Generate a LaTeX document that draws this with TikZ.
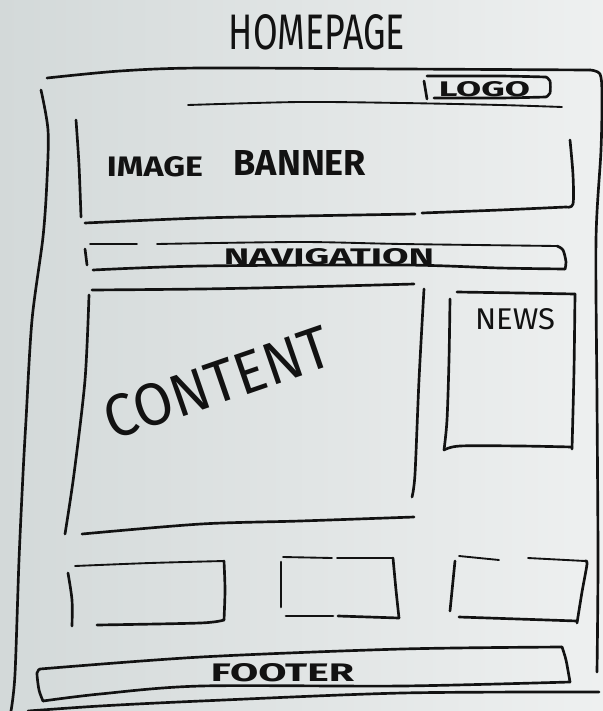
\documentclass[tikz,border=0pt]{standalone}
\usepackage{fontspec}
\setmainfont{Fira Sans}
\usepackage{graphicx}
\definecolor{bgL}{RGB}{211,217,217}
\definecolor{bgR}{RGB}{238,240,240}
\definecolor{ink}{RGB}{18,18,18}
\tikzset{
  pen/.style={draw=ink, line width=2pt, line cap=round, line join=round},
  finepen/.style={pen, line width=1.4pt},
  sketchtext/.style={inner sep=0pt, outer sep=0pt, text=ink},
}
\begin{document}
\begin{tikzpicture}[x=0.75pt,y=-0.75pt]
  \useasboundingbox (0,0) rectangle (603,711);
  \fill[left color=bgL, right color=bgR] (0,0) rectangle (603,711);

  % title
  \node[sketchtext] (home) at (317,32.5) {\resizebox{132pt}{26.25pt}{HOMEPAGE}};

  % outer frame
  \draw[pen] plot[smooth, tension=0.5] coordinates {(47,78) (120,71) (201,68) (402,69) (590,70)};
  \draw[pen] plot[smooth, tension=0.5] coordinates {(590,70) (600,74) (602,95) (601,150) (596,240) (597,400) (598,560) (597,672)};
  \draw[pen] plot[smooth, tension=0.5] coordinates {(41,90) (48,130) (47,180) (43,237) (32,320) (26,420) (23,474) (19,560) (15,674) (11,711)};
  \draw[pen] plot[smooth, tension=0.5] coordinates {(28,711) (100,706) (201,701) (402,693) (599,692)};

  % logo
  \draw[finepen] plot[smooth, tension=0.5] coordinates {(188,105) (300,102) (402,103) (500,105) (562,107)};
  \draw[pen] (424,81) -- (427,99);
  \draw[pen] plot[smooth, tension=0.4] coordinates {(427,76) (500,76) (546,77)};
  \draw[pen] plot[smooth, tension=0.5] coordinates {(546,77) (550,81) (550,93) (546,97)};
  \draw[pen] plot[smooth, tension=0.4] coordinates {(546,97) (500,98) (434,98)};
  \node[sketchtext] (logo) at (484.5,89.5) {\resizebox{68.25pt}{11.25pt}{\bfseries LOGO}};

  % image banner
  \draw[pen] plot[smooth, tension=0.5] coordinates {(76,120) (79,165) (81,217)};
  \draw[pen] plot[smooth, tension=0.5] coordinates {(85,223) (201,218) (300,216) (415,214)};
  \draw[pen] plot[smooth, tension=0.5] coordinates {(422,213) (500,210) (566,207)};
  \draw[pen] plot[smooth, tension=0.5] coordinates {(566,207) (573,204) (573,175) (570,140)};
  \node[sketchtext] (image) at (155,167) {\resizebox{72pt}{15pt}{\bfseries IMAGE}};
  \node[sketchtext] (banner) at (300,162.5) {\resizebox{99pt}{18.75pt}{\bfseries BANNER}};

  % navigation
  \draw[pen] (85,249) -- (87,265);
  \draw[finepen] (90,244) -- (137,244);
  \draw[finepen] plot[smooth, tension=0.5] coordinates {(157,244) (300,242) (402,244) (557,246)};
  \draw[pen] plot[smooth, tension=0.5] coordinates {(557,246) (563,250) (566,262) (565,269)};
  \draw[pen] plot[smooth, tension=0.5] coordinates {(565,269) (500,268) (402,265) (201,266) (93,270)};
  \node[sketchtext] (nav) at (329,257) {\resizebox{157.5pt}{12pt}{\bfseries NAVIGATION}};

  % content
  \draw[pen] plot[smooth, tension=0.5] coordinates {(92,290) (201,289) (300,287) (414,284)};
  \draw[pen] plot[smooth, tension=0.5] coordinates {(89,295) (85,380) (74,474) (65,534)};
  \draw[pen] plot[smooth, tension=0.5] coordinates {(424,289) (419,380) (415,474) (412,497)};
  \draw[pen] plot[smooth, tension=0.5] coordinates {(82,534) (201,524) (300,521) (414,517)};
  \node[sketchtext, rotate=19] (content) at (217,383) {\resizebox{177pt}{31.5pt}{CONTENT}};

  % news
  \draw[pen] plot[smooth, tension=0.5] coordinates {(457,292) (520,293) (575,294)};
  \draw[pen] plot[smooth, tension=0.5] coordinates {(575,294) (574,370) (572,449)};
  \draw[pen] plot[smooth, tension=0.5] coordinates {(450,299) (449,360) (447,420) (444,450)};
  \draw[pen] plot[smooth, tension=0.5] coordinates {(444,450) (460,446) (520,446) (572,447)};
  \node[sketchtext] (news) at (515,319.5) {\resizebox{60pt}{15.75pt}{NEWS}};

  % box 1
  \draw[finepen] plot[smooth, tension=0.5] coordinates {(75,566) (150,563) (224,561)};
  \draw[pen] plot[smooth, tension=0.5] coordinates {(224,561) (225,590) (224,620)};
  \draw[pen] plot[smooth, tension=0.5] coordinates {(224,620) (200,623) (97,625)};
  \draw[pen] plot[smooth, tension=0.5] coordinates {(68,573) (72,600) (72,626)};

  % box 2
  \draw[pen] (281,562) -- (281,607);
  \draw[finepen] (283,557) -- (332,558);
  \draw[finepen] (337,558) -- (393,558);
  \draw[pen] plot[smooth, tension=0.5] coordinates {(393,558) (396,590) (399,618)};
  \draw[pen] (399,618) -- (338,616);
  \draw[pen] (333,616) -- (286,616);

  % box 3
  \draw[pen] (455,561) -- (450,611);
  \draw[finepen] (459,556) -- (499,560);
  \draw[finepen] (528,558) -- (585,561);
  \draw[pen] plot[smooth, tension=0.5] coordinates {(585,561) (587,564) (582,592) (577,623)};
  \draw[pen] (577,621) -- (459,617);

  % footer
  \draw[pen] plot[smooth, tension=0.5] coordinates {(562,647) (402,649) (201,657) (40,669)};
  \draw[pen] plot[smooth, tension=0.5] coordinates {(40,669) (37,673) (39,690) (43,701)};
  \draw[pen] plot[smooth, tension=0.5] coordinates {(43,701) (100,694) (201,686) (402,686) (570,682)};
  \draw[pen] plot[smooth, tension=0.5] coordinates {(562,647) (566,660) (570,682)};
  \node[sketchtext] (footer) at (282.5,673) {\resizebox{107.25pt}{13.5pt}{\bfseries FOOTER}};
\end{tikzpicture}
\end{document}
